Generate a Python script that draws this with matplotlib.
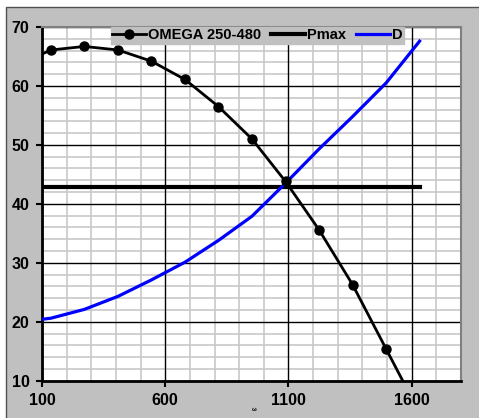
import matplotlib.pyplot as plt
from matplotlib.patches import Rectangle

plt.rcParams['font.family'] = ['Liberation Sans', 'DejaVu Sans']
plt.rcParams['font.weight'] = 'bold'

# data
omega_x = [0, 136, 272, 408, 544, 680, 816, 952, 1088, 1224, 1360, 1496, 1632]
omega_y = [63.5, 66.1, 66.7, 66.1, 64.2, 61.1, 56.5, 51.0, 43.8, 35.6, 26.3, 15.4, 4.5]
d_y = [19.9, 20.6, 22.1, 24.3, 27.1, 30.1, 33.8, 37.9, 43.5, 49.3, 54.8, 60.5, 67.6]
pmax_x = [0, 1632]
pmax_y = [42.9, 42.9]
x_ticks = [100, 600, 1100, 1600]
y_ticks = [10, 20, 30, 40, 50, 60, 70]
x_minor = [v for v in range(100, 1801, 100) if v not in x_ticks]
y_minor = [v for v in range(10, 71, 2) if v not in y_ticks]

fig = plt.figure(figsize=(4.79, 4.18), dpi=100)
fig.patch.set_facecolor('white')
# grey chart area with a dark edge on top / left
bg = Rectangle((6 / 479, -0.1), 1.2, 1.1 - 7 / 418,
               transform=fig.transFigure, facecolor='#c0c0c0',
               edgecolor='#505050', lw=1, zorder=-10)
fig.patches.append(bg)

ax = fig.add_axes([42 / 479, 1 - 380.7 / 418, 419 / 479, 353.7 / 418])
ax.set_zorder(1)
ax.set_facecolor('white')

# light minor grid first, black major grid on top of it
for v in x_minor:
    ax.axvline(v, color='#c8c8c8', lw=1.2, zorder=0.2)
for v in y_minor:
    ax.axhline(v, color='#c8c8c8', lw=1.2, zorder=0.2)

ax.plot(omega_x, omega_y, color='black', lw=2, marker='o', ms=6.5,
        label='OMEGA 250-480', zorder=4)
ax.plot(pmax_x, pmax_y, color='black', lw=3, label='Pmax', zorder=3)
ax.plot(omega_x, d_y, color='#0000ff', lw=2.3, label='D', zorder=3)

ax.set_xlim(100, 1800)
ax.set_ylim(10, 70)
ax.set_xticks(x_ticks)
ax.set_yticks(y_ticks)
ax.set_axisbelow(True)
ax.grid(which='major', color='black', lw=1, linestyle='-')

ax.tick_params(which='major', direction='out', length=4, width=1.5,
               labelsize=11.5, pad=5)
for lbl in ax.get_xticklabels() + ax.get_yticklabels():
    lbl.set_fontweight('bold')

ax.spines['left'].set_linewidth(2)
ax.spines['bottom'].set_linewidth(2)
for s in ('top', 'right'):
    ax.spines[s].set_color('#808080')
    ax.spines[s].set_linewidth(1.5)

ax.set_xlabel('ω', fontsize=4, fontweight='bold', labelpad=0)
ax.xaxis.set_label_coords(0.506, -0.075)

leg = ax.legend(loc='upper center', bbox_to_anchor=(0.514, 1.0), ncol=3,
                frameon=True, fancybox=False, borderaxespad=0, borderpad=0.1,
                handlelength=2.3, handletextpad=0.15, columnspacing=0.7,
                prop={'size': 10.5, 'weight': 'bold'})
leg.set_zorder(10)
leg.get_frame().set_facecolor('#c0c0c0')
leg.get_frame().set_edgecolor('#c0c0c0')
leg.get_frame().set_alpha(1)

fig.savefig('out.png', dpi=100, facecolor=fig.get_facecolor())
